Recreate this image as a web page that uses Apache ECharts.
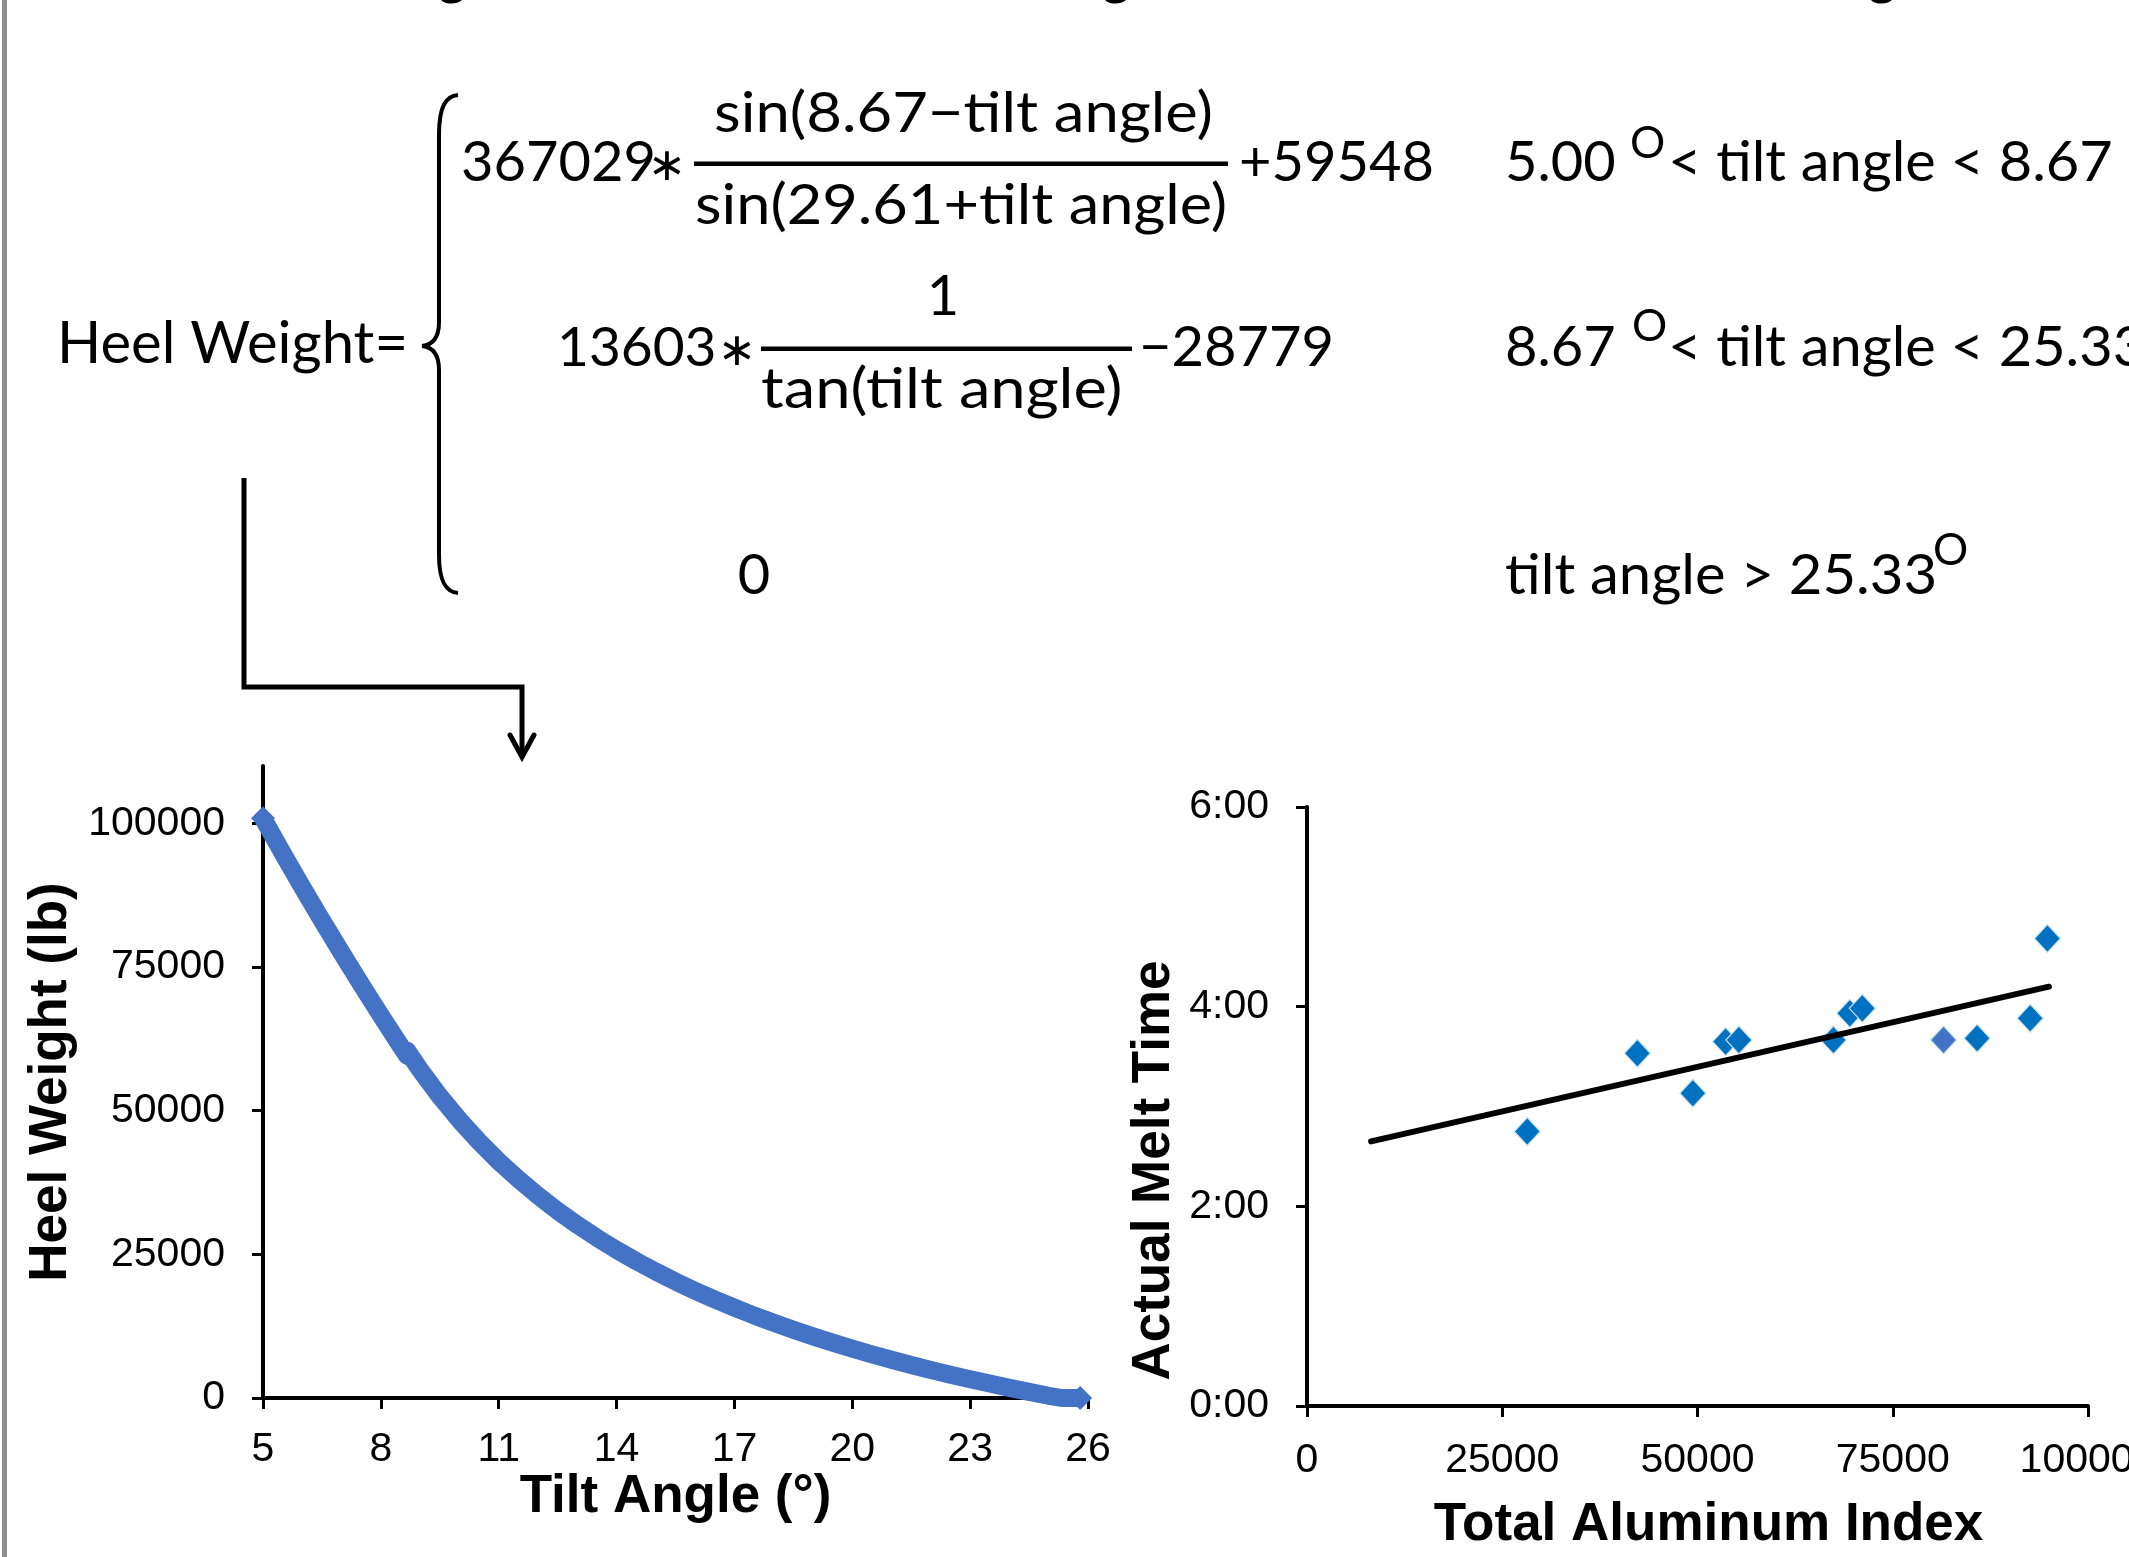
<!DOCTYPE html>
<html>
<head>
<meta charset="utf-8">
<script src="https://cdn.jsdelivr.net/npm/echarts@6/dist/echarts.min.js"></script>
<style>
  html, body { margin: 0; padding: 0; background: #fff; }
  #chart { width: 2129px; height: 1557px; }
</style>
</head>
<body>
<div id="chart"></div>
<script>
// left chart: heel weight vs tilt angle
const tiltAngle = [5, 5.5, 6, 6.5, 7, 7.5, 8, 8.5, 8.67, 8.67, 9, 9.5, 10, 10.5, 11, 11.5, 12, 12.5,
  13, 13.5, 14, 14.5, 15, 15.5, 16, 16.5, 17, 17.5, 18, 18.5, 19, 19.5, 20, 20.5, 21, 21.5,
  22, 22.5, 23, 23.5, 24, 24.5, 25, 25.33, 25.8];
const heelWeight = [100900, 94840, 88910, 83130, 77490, 71970, 66580, 61310, 59550, 60430, 57110,
  52510, 48370, 44620, 41200, 38080, 35220, 32580, 30140, 27880, 25780, 23820, 21990, 20270,
  18660, 17140, 15720, 14360, 13090, 11880, 10730, 9640, 8600, 7600, 6660, 5750, 4890, 4060,
  3270, 2510, 1770, 1070, 390, 0, 0];
const tiltTicks = [5, 8, 11, 14, 17, 20, 23, 26];
const heelTicks = [0, 25000, 50000, 75000, 100000];

// right chart: melt time vs aluminum index (minutes)
const aluminumIndex = [28200, 42300, 49400, 53600, 55300, 67400, 69500, 71100, 81500, 85800, 92600, 94800];
const meltMinutes = [165, 212, 188, 219, 220, 220, 236, 239, 220, 221, 233, 281];
const trendIndex = [8200, 95000];
const trendMinutes = [159, 252];

const chart = echarts.init(document.getElementById('chart'));

const axisFont = "'Liberation Sans', Arial, sans-serif";
const eqFont = "Lato, 'DejaVu Sans', sans-serif";
const K = 0.32; // canvas middle -> baseline offset (em)

// text placed by its baseline, optionally stretched sideways
const eqText = (text, x, base, size, align, sx) => ({
  type: 'text',
  silent: true,
  x: x,
  y: base - K * size,
  scaleX: sx || 1,
  style: {
    text: text,
    x: 0,
    y: 0,
    font: size + 'px ' + eqFont,
    fill: '#000',
    align: align || 'left',
    verticalAlign: 'middle',
    textAlign: align || 'left',
    textVerticalAlign: 'middle'
  }
});
// centred asterisk operator
const star = (cx, cy) => ({
  type: 'text', silent: true, x: cx, y: cy,
  style: {
    text: '∗', x: 0, y: 0, font: "46px 'DejaVu Sans', sans-serif", fill: '#000',
    align: 'center', verticalAlign: 'middle', textAlign: 'center', textVerticalAlign: 'middle'
  }
});
const blk = { stroke: '#000', lineWidth: 4, fill: 'none' };
const curve = (x1, y1, c1x, c1y, c2x, c2y, x2, y2) => ({
  type: 'bezierCurve', silent: true,
  shape: { x1: x1, y1: y1, cpx1: c1x, cpy1: c1y, cpx2: c2x, cpy2: c2y, x2: x2, y2: y2 },
  style: blk
});
const seg = (x1, y1, x2, y2, w) => ({
  type: 'line', silent: true,
  shape: { x1: x1, y1: y1, x2: x2, y2: y2 },
  style: { stroke: '#000', lineWidth: w || 4 }
});

const axisName = {
  color: '#000',
  fontFamily: axisFont,
  fontWeight: 'bold',
  fontSize: 53
};
const axisLine = { onZero: false, lineStyle: { color: '#000', width: 4 } };
const tick = (vals) => ({ show: true, customValues: vals, length: 11, lineStyle: { color: '#000', width: 3 } });
const plain = (v) => String(v);

const lastIdx = tiltAngle.length - 1;

chart.setOption({
  animation: false,
  backgroundColor: '#fff',
  grid: [
    { left: 263, top: 766, width: 825, height: 632, outerBoundsMode: 'none' },
    { left: 1307, top: 807, width: 781, height: 599, outerBoundsMode: 'none' }
  ],
  xAxis: [
    {
      gridIndex: 0,
      type: 'value',
      min: 5,
      max: 26,
      axisLine: axisLine,
      axisTick: tick(tiltTicks),
      axisLabel: { customValues: tiltTicks, margin: 31, color: '#000', fontSize: 41, fontFamily: axisFont, formatter: plain },
      splitLine: { show: false },
      name: 'Tilt Angle (°)',
      nameLocation: 'middle',
      nameGap: 71,
      nameTextStyle: axisName
    },
    {
      gridIndex: 1,
      type: 'value',
      min: 0,
      max: 100000,
      interval: 25000,
      axisLine: axisLine,
      axisTick: { length: 11, lineStyle: { color: '#000', width: 3 } },
      axisLabel: { margin: 34, color: '#000', fontSize: 41, fontFamily: axisFont, formatter: plain },
      splitLine: { show: false },
      name: 'Total Aluminum Index',
      nameLocation: 'middle',
      nameGap: 93,
      nameTextStyle: Object.assign({ padding: [0, 0, 0, 22] }, axisName)
    }
  ],
  yAxis: [
    {
      gridIndex: 0,
      type: 'value',
      min: 0,
      max: 110000,
      axisLine: axisLine,
      axisTick: tick(heelTicks),
      axisLabel: { customValues: heelTicks, margin: 38, color: '#000', fontSize: 41, fontFamily: axisFont, formatter: plain },
      splitLine: { show: false },
      name: 'Heel Weight (lb)',
      nameLocation: 'middle',
      nameGap: 185,
      nameTextStyle: axisName
    },
    {
      gridIndex: 1,
      type: 'value',
      min: 0,
      max: 360,
      interval: 120,
      axisLine: axisLine,
      axisTick: { length: 11, lineStyle: { color: '#000', width: 3 } },
      axisLabel: {
        margin: 38, color: '#000', fontSize: 41, fontFamily: axisFont,
        formatter: (v) => (v / 60) + ':00'
      },
      splitLine: { show: false },
      name: 'Actual Melt Time',
      nameLocation: 'middle',
      nameGap: 126,
      nameTextStyle: Object.assign({ padding: [0, 128, 0, 0] }, axisName)
    }
  ],
  series: [
    {
      type: 'line',
      xAxisIndex: 0,
      yAxisIndex: 0,
      data: tiltAngle.map((t, i) => [t, heelWeight[i]]),
      lineStyle: { color: '#4472C4', width: 18, join: 'round' },
      itemStyle: { color: '#4472C4' },
      symbol: 'diamond',
      showAllSymbol: true,
      symbolSize: (v, p) => (p.dataIndex === 0 || p.dataIndex === lastIdx ? 24 : 0),
      z: 2
    },
    {
      type: 'scatter',
      xAxisIndex: 1,
      yAxisIndex: 1,
      data: aluminumIndex.map((x, i) => ({
        value: [x, meltMinutes[i]],
        itemStyle: i === 8 ? { color: '#4472C4' } : undefined
      })),
      symbol: 'diamond',
      symbolSize: [26, 28],
      itemStyle: { color: '#0070C0', borderColor: '#c6e2ec', borderWidth: 1.2, opacity: 1 },
      z: 3
    },
    {
      type: 'line',
      xAxisIndex: 1,
      yAxisIndex: 1,
      data: trendIndex.map((x, i) => [x, trendMinutes[i]]),
      lineStyle: { color: '#000', width: 6, cap: 'round' },
      symbol: 'none',
      z: 4
    }
  ],
  graphic: [
    // page border on the left
    { type: 'rect', silent: true, shape: { x: 2, y: 0, width: 5, height: 1557 }, style: { fill: '#8f8f8f' } },
    // descenders of the cut-off line above
    eqText('g', 452, -7, 56, 'center'),
    eqText('g', 1116, -7, 56, 'center'),
    eqText('g', 1882, -7, 56, 'center'),
    // equation
    eqText('Heel Weight=', 57, 363, 58),
    // big brace
    curve(458, 95, 446, 96, 439, 106, 439, 135),
    seg(439, 135, 439, 322),
    curve(439, 322, 439, 338, 432, 345, 422, 346),
    curve(422, 346, 432, 347, 439, 354, 439, 370),
    seg(439, 370, 439, 555),
    curve(439, 555, 439, 582, 446, 592, 458, 593),

    eqText('367029', 461, 181, 56),
    star(667, 168),
    eqText('sin(8.67−tilt angle)', 714, 132, 57, 'left', 1.08),
    { type: 'rect', silent: true, shape: { x: 694, y: 161.5, width: 534, height: 4.5 }, style: { fill: '#000' } },
    eqText('sin(29.61+tilt angle)', 695, 224, 57, 'left', 1.075),
    eqText('+59548', 1239, 181, 56),
    eqText('5.00', 1505, 181, 56),
    eqText('O', 1630, 158, 44),
    eqText('< tilt angle < 8.67', 1668, 181, 56, 'left', 1.03),

    eqText('13603', 557, 366, 55),
    star(737, 353),
    eqText('1', 943, 315, 56, 'center'),
    { type: 'rect', silent: true, shape: { x: 761, y: 346.5, width: 371, height: 4.5 }, style: { fill: '#000' } },
    eqText('tan(tilt angle)', 761, 408, 57, 'left', 1.11),
    eqText('−28779', 1139, 366, 56),
    eqText('8.67', 1505, 366, 56),
    eqText('O', 1632, 341, 44),
    eqText('< tilt angle < 25.33', 1668, 366, 56, 'left', 1.03),

    eqText('0', 754, 594, 56, 'center'),
    eqText('tilt angle > 25.33', 1505, 594, 56, 'left', 1.035),
    eqText('O', 1933, 565, 44),

    // arrow into the left chart
    {
      type: 'polyline', silent: true,
      shape: { points: [[244, 478], [244, 687], [522, 687], [522, 754]] },
      style: { stroke: '#000', lineWidth: 5, fill: 'none', lineJoin: 'miter' }
    },
    {
      type: 'polyline', silent: true,
      shape: { points: [[510, 735], [522, 757], [534, 735]] },
      style: { stroke: '#000', lineWidth: 5, fill: 'none', lineCap: 'round', lineJoin: 'miter' }
    }
  ]
});
</script>
</body>
</html>
